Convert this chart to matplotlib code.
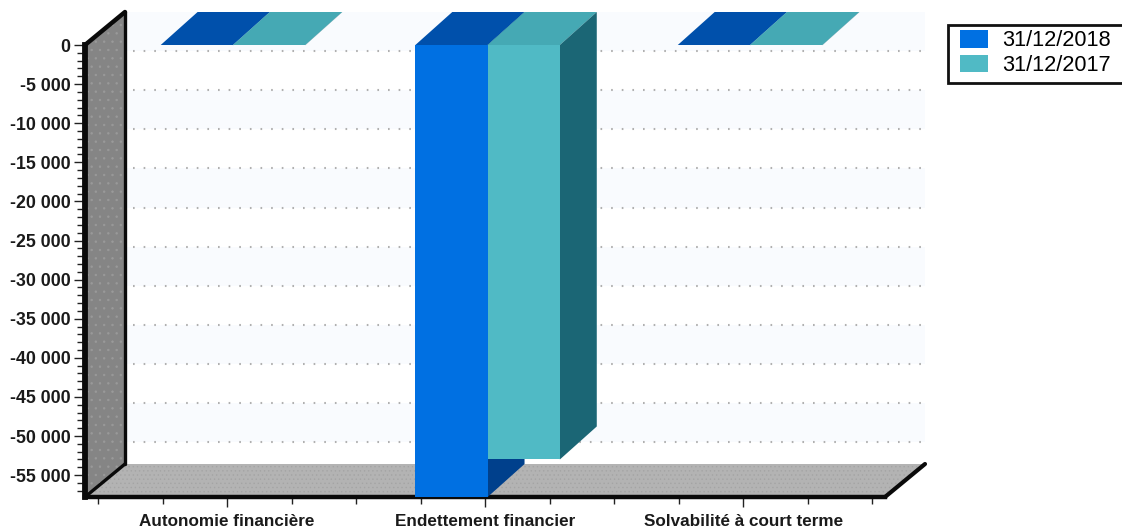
from matplotlib import pyplot as plt
from matplotlib.patches import Patch, Rectangle

categories = ["Autonomie financière", "Endettement financier", "Solvabilité à court terme"]
series_2018 = [-40, -57800, -40]
series_2017 = [-30, -53000, -30]
series_names = ["31/12/2018", "31/12/2017"]
y_ticks = [0, -5000, -10000, -15000, -20000, -25000, -30000, -35000, -40000, -45000, -50000, -55000]

W, H = 1122, 531
group_pos = [0.023, 1.01, 2.027]
bar_w = 0.28
# profondeur de la pseudo 3D, en unites de donnees
dx = 0.155
dy = 4220
bar_dx = 0.143

plt.rcParams['font.family'] = ['Liberation Sans', 'DejaVu Sans']
plt.rcParams['hatch.linewidth'] = 0.5

fig = plt.figure(figsize=(W / 100, H / 100), dpi=100)
ax = fig.add_axes([85 / W, (H - 497) / H, 800 / W, 452 / H])
ax.set_xlim(-0.5504, 2.55)
ax.set_ylim(-57800, 0)
ax.patch.set_visible(False)
x0, x1 = ax.get_xlim()
y0, y1 = ax.get_ylim()


def poly(xs, ys, color, z=1, **kw):
    ax.fill(xs, ys, color=color, clip_on=False, zorder=z, lw=0, **kw)


def diag(xs, ys, lw=3.0):
    ax.plot(xs, ys, color="#0a0a0a", lw=lw, clip_on=False, zorder=3, solid_capstyle="round")


# fond : bandes tres claires
for i in range(len(y_ticks) - 1):
    if i % 2 == 0:
        poly([x0 + dx, x1 + dx, x1 + dx, x0 + dx],
             [y_ticks[i] + dy, y_ticks[i] + dy, y_ticks[i + 1] + dy, y_ticks[i + 1] + dy],
             "#f9fbfe", z=0.5)

# pointilles du fond
for v in y_ticks[1:]:
    ax.plot([x0 + dx + 0.03, x1 + dx], [v + dy, v + dy], color="#b0b0b0", lw=1.5,
            linestyle=(0, (0.8, 4.3)), clip_on=False, zorder=0.8)

# mur gauche et sol
poly([x0, x0 + dx, x0 + dx, x0], [0, dy, y0 + dy, y0], "#858585")
ax.fill([x0, x0 + dx, x0 + dx, x0], [0, dy, y0 + dy, y0], facecolor="none", edgecolor="#9a9a9a",
        hatch="..", lw=0, clip_on=False, zorder=1.1)
poly([x0, x0 + dx, x1 + dx, x1], [y0, y0 + dy, y0 + dy, y0], "#b3b3b3")
ax.fill([x0, x0 + dx, x1 + dx, x1], [y0, y0 + dy, y0 + dy, y0], facecolor="none", edgecolor="#a4a4a4",
        hatch="....", lw=0, clip_on=False, zorder=1.1)

diag([x0, x0 + dx], [0, dy], lw=3.2)
diag([x0 + dx, x0 + dx], [dy, y0 + dy], lw=2.4)
diag([x0, x0 + dx], [y0, y0 + dy], lw=2.4)
diag([x1, x1 + dx], [y0, y0 + dy], lw=3.0)

# barres
for pos, v18, v17 in zip(group_pos, series_2018, series_2017):
    a, b, c = pos - bar_w, pos, pos + bar_w
    poly([a, a + bar_dx, b + bar_dx, b], [0, dy, dy, 0], "#0050ab", z=5)
    poly([b, b + bar_dx, b + bar_dx, b], [0, dy, v18 + dy, v18], "#00408c", z=5)
    poly([a, b, b, a], [0, 0, v18, v18], "#0070e2", z=5.2)
    poly([b, b + bar_dx, c + bar_dx, c], [0, dy, dy, 0], "#45a9b4", z=5.3)
    poly([c, c + bar_dx, c + bar_dx, c], [0, dy, v17 + dy, v17], "#1b6675", z=5.3)
    poly([b, c, c, b], [0, 0, v17, v17], "#50bac5", z=5.4)

for s in ("top", "right"):
    ax.spines[s].set_visible(False)
ax.spines["left"].set_linewidth(4.2)
ax.spines["left"].set_color("#0a0a0a")
ax.spines["bottom"].set_linewidth(3.2)
ax.spines["bottom"].set_color("#0a0a0a")

ax.set_yticks(y_ticks)
ax.set_yticklabels([f"{v:,}".replace(",", " ") for v in y_ticks], fontsize=12.8, fontweight="bold", color="#1a1a1a")
ax.set_yticks(list(range(-57000, 0, 1000)), minor=True)
ax.set_xticks([0, 1, 2])
ax.set_xticklabels(categories, fontsize=12.3, fontweight="bold", color="#1a1a1a")
ax.set_xticks([-0.5, -0.25, 0.25, 0.5, 0.75, 1.25, 1.5, 1.75, 2.25, 2.5], minor=True)
ax.tick_params(axis="y", which="major", length=8, width=1, pad=2.5, color="#222222")
ax.tick_params(axis="y", which="minor", length=5.5, width=1, color="#222222")
ax.tick_params(axis="x", which="major", length=7, width=1, pad=5, color="#222222")
ax.tick_params(axis="x", which="minor", length=5, width=1, color="#222222")

# cadre de la legende : il sort a droite de l'image
fig.add_artist(Rectangle((948 / W, 1 - 83 / H), 180 / W, 58 / H, transform=fig.transFigure,
                         facecolor="white", edgecolor="#111111", lw=2))
handles = [Patch(facecolor="#0070e2", label=series_names[0]),
           Patch(facecolor="#50bac5", label=series_names[1])]
fig.legend(handles=handles, loc="upper left", bbox_to_anchor=(960 / W, 1 - 30 / H),
           fontsize=15.7, frameon=False, borderaxespad=0, borderpad=0, handlelength=1.28,
           handleheight=0.87, handletextpad=0.64, labelspacing=0.15)

fig.savefig("out.png", dpi=100)
